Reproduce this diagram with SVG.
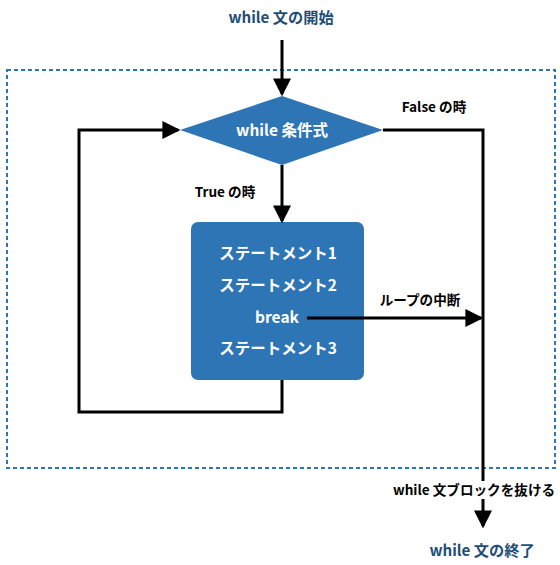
<svg xmlns="http://www.w3.org/2000/svg" width="560" height="565" viewBox="0 0 560 565">
<defs>
<marker id="ah" markerWidth="6" markerHeight="6" refX="5.2" refY="3" orient="auto" markerUnits="strokeWidth" viewBox="0 0 6 6"><path d="M0,0 L6,3 L0,6 Z" fill="#000"/></marker>
<style>
text{font-family:"Noto Sans CJK JP","Noto Sans",sans-serif;font-weight:bold;font-size:13.6px;text-anchor:middle}
.w{fill:#fff;font-size:15.5px}
.b{fill:#1f4e79;font-size:15.2px}
.k{fill:#000}
.ln{fill:none;stroke:#000;stroke-width:3}
</style>
</defs>
<rect width="560" height="565" fill="#fff"/>
<rect id="frame" x="7" y="70" width="548" height="398" fill="none" stroke="#2e75b6" stroke-width="2" stroke-dasharray="4,3"/>
<g id="start"><text class="b" x="281" y="23">while 文の開始</text></g>
<g id="cond"><polygon points="282,96 383,130 282,165 180,130" fill="#2e75b6"/><text class="w" x="282" y="136">while 条件式</text></g>
<g id="body"><rect x="191" y="222" width="173" height="158" rx="7" fill="#2e75b6"/>
<text class="w" x="278" y="259">ステートメント1</text>
<text class="w" x="278" y="291">ステートメント2</text>
<text class="w" x="277" y="323">break</text>
<text class="w" x="278" y="354">ステートメント3</text></g>
<g id="end"><text class="b" x="482" y="556">while 文の終了</text></g>
<g id="connectors">
<line class="ln" x1="282" y1="40" x2="282" y2="94" marker-end="url(#ah)"/>
<line class="ln" x1="282" y1="165" x2="282" y2="221" marker-end="url(#ah)"/>
<polyline class="ln" points="282,380 282,412 79,412 79,130 178,130" marker-end="url(#ah)"/>
<polyline class="ln" points="383,130 483,130 483,526" marker-end="url(#ah)"/>
<line class="ln" x1="307" y1="318" x2="481" y2="318" marker-end="url(#ah)"/>
<rect x="390" y="481" width="168" height="18" fill="#fff"/>
<text class="k" x="225" y="197">True の時</text>
<text class="k" x="434" y="112">False の時</text>
<text class="k" x="420" y="305">ループの中断</text>
<text class="k" x="474" y="495">while 文ブロックを抜ける</text>
</g>
</svg>
